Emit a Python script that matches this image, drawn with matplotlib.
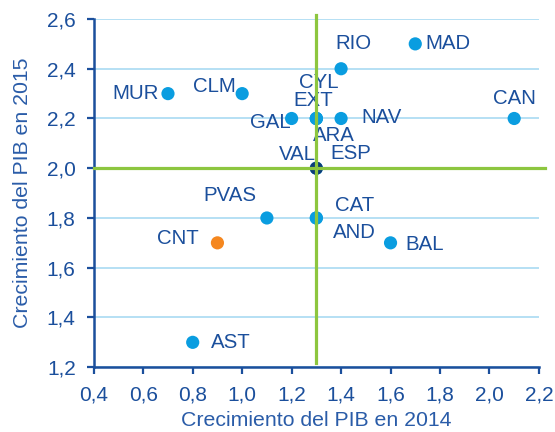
import matplotlib.pyplot as plt
from matplotlib.ticker import FuncFormatter, MultipleLocator

plt.rcParams['font.family'] = ['Liberation Sans', 'DejaVu Sans']

# data
regions = ['MUR', 'CLM', 'RIO', 'MAD', 'CAN', 'CYL', 'EXT', 'GAL', 'NAV', 'ARA',
           'VAL', 'ESP', 'PVAS', 'CAT', 'AND', 'BAL', 'CNT', 'AST']
pib_2014 = [0.7, 1.0, 1.4, 1.7, 2.1, 1.3, 1.3, 1.2, 1.4, 1.3,
            1.3, 1.3, 1.1, 1.3, 1.3, 1.6, 0.9, 0.8]
pib_2015 = [2.3, 2.3, 2.4, 2.5, 2.2, 2.2, 2.2, 2.2, 2.2, 2.2,
            2.0, 2.0, 1.8, 1.8, 1.8, 1.7, 1.7, 1.3]
media_2014 = 1.3
media_2015 = 2.0

# label offsets in pixels (dx, dy), hand placed
offsets = {
    'MUR': (-32, 0), 'CLM': (-28, 7), 'RIO': (12, 25), 'MAD': (33, 0),
    'CAN': (0, 20), 'CYL': (2, 36), 'EXT': (-3, 18), 'GAL': (-21, -4),
    'NAV': (40, 1), 'ARA': (18, -17), 'VAL': (-19, 14), 'ESP': (34, 15),
    'PVAS': (-37, 22), 'CAT': (38, 12), 'AND': (38, -15), 'BAL': (34, -2),
    'CNT': (-40, 4), 'AST': (38, 0),
}

dark = '#1B4F9C'
cyan = '#0A9DE0'

fig = plt.figure(figsize=(5.55, 4.32), dpi=100)
ax = fig.add_axes([0.169, 0.150, 0.802, 0.806])

colors = []
for r in regions:
    if r == 'ESP':
        colors.append('#0C3C78')
    elif r == 'CNT':
        colors.append('#F5871F')
    else:
        colors.append(cyan)
ax.scatter(pib_2014, pib_2015, s=90, c=colors, zorder=3, linewidths=0)

for r, x, y in zip(regions, pib_2014, pib_2015):
    dx, dy = offsets[r]
    ax.annotate(r, (x, y), xytext=(dx * 0.72, dy * 0.72), textcoords='offset points',
                ha='center', va='center', fontsize=14.7, color=dark)

# average lines
ax.plot([media_2014, media_2014], [1.215, 2.615], color='#8DC63F', lw=2.3,
        zorder=4, clip_on=False)
ax.plot([0.4, 2.225], [media_2015, media_2015], color='#8DC63F', lw=2.3,
        zorder=4, clip_on=False)

ax.set_xlim(0.4, 2.2)
ax.set_ylim(1.2, 2.6)
ax.xaxis.set_major_locator(MultipleLocator(0.2))
ax.yaxis.set_major_locator(MultipleLocator(0.2))
fmt = FuncFormatter(lambda v, p: f'{v:.1f}'.replace('.', ','))
ax.xaxis.set_major_formatter(fmt)
ax.yaxis.set_major_formatter(fmt)

ax.grid(axis='y', color='#A9DAF2', lw=1.2, zorder=0)
ax.set_axisbelow(True)
for s in ['top', 'right']:
    ax.spines[s].set_visible(False)
for s in ['left', 'bottom']:
    ax.spines[s].set_color(dark)
    ax.spines[s].set_linewidth(1.8)
ax.tick_params(colors=dark, labelsize=15, width=1.6, length=5, direction='out')
ax.tick_params(axis='y', pad=8)
ax.tick_params(axis='x', pad=8)

ax.set_xlabel('Crecimiento del PIB en 2014', fontsize=15.3, color='#2A5CA8', labelpad=5)
ax.set_ylabel('Crecimiento del PIB en 2015', fontsize=15.3, color='#2A5CA8', labelpad=11)

fig.savefig('out.png', dpi=100)
